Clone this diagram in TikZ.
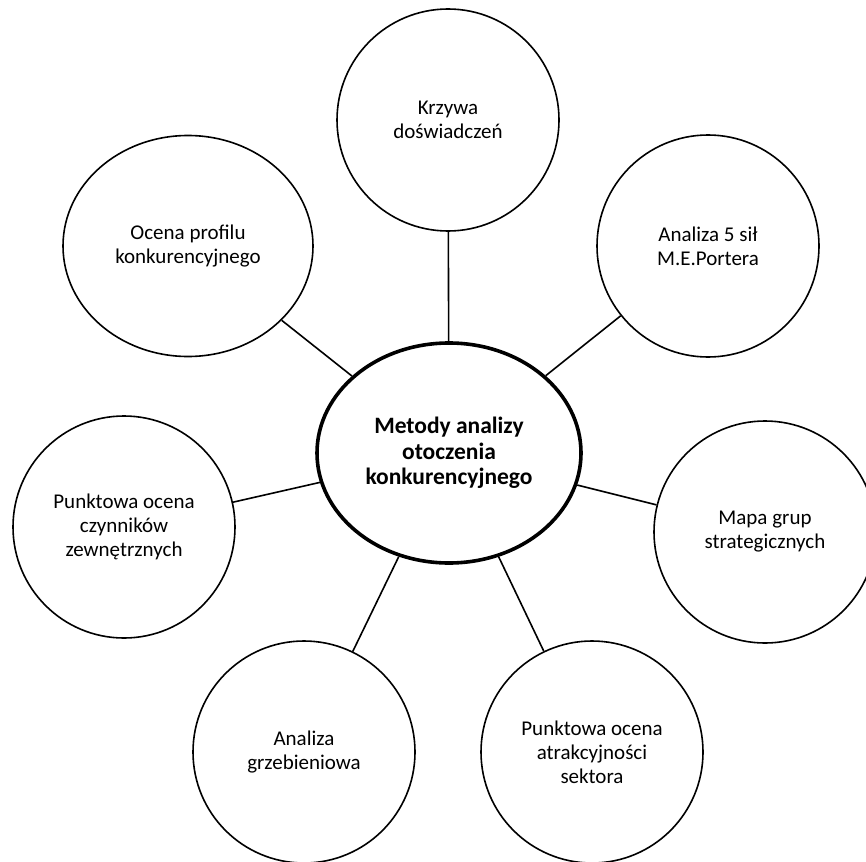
\documentclass[tikz,border=0pt]{standalone}
\usepackage{fontspec}
\setmainfont{Carlito}
\usetikzlibrary{shapes.geometric}

\begin{document}
\begin{tikzpicture}[x=1pt, y=-1pt, line width=1.6pt,
    method/.style={circle, draw, minimum size=222pt, inner sep=2pt, align=center, font=\fontsize{21}{24}\selectfont},
    main/.style={ellipse, draw, line width=3.6pt, minimum width=264pt, minimum height=220pt, inner sep=2pt, align=center, font=\bfseries\fontsize{23.5}{25.5}\selectfont}]
    \useasboundingbox (0,0) rectangle (866,861);

    \node[main] (centrum) at (449,453) {Metody analizy\\otoczenia\\konkurencyjnego};
    \node[method] (krzywa) at (448,120) {Krzywa\\doświadczeń};
    \node[method, ellipse, minimum width=250pt, minimum height=221pt] (profil) at (188,246) {Ocena profilu\\konkurencyjnego};
    \node[method] (porter) at (708,246) {Analiza 5 sił\\M.E.Portera};
    \node[method] (czynniki) at (124,527) {Punktowa ocena\\czynników\\zewnętrznych};
    \node[method] (mapa) at (765,532) {Mapa grup\\strategicznych};
    \node[method] (grzebien) at (304,752) {Analiza\\grzebieniowa};
    \node[method] (sektor) at (592,752) {Punktowa ocena\\atrakcyjności\\sektora};

    \draw (centrum) -- (krzywa);
    \draw (centrum) -- (profil);
    \draw (centrum) -- (porter);
    \draw (centrum) -- (czynniki);
    \draw (centrum) -- (mapa);
    \draw (centrum) -- (grzebien);
    \draw (centrum) -- (sektor);

\end{tikzpicture}
\end{document}
